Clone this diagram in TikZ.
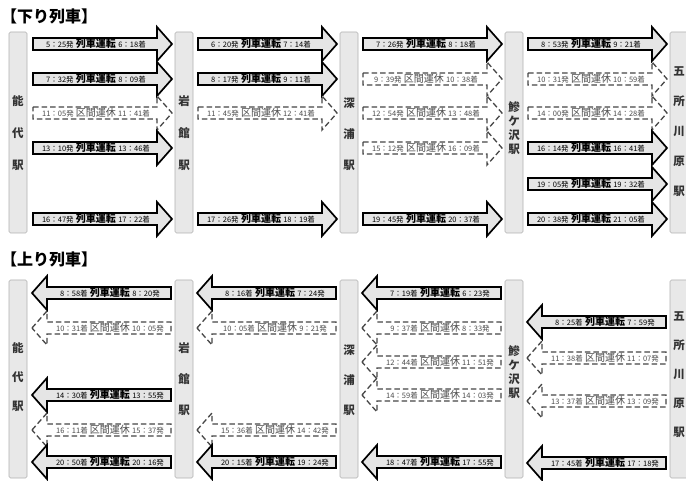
\documentclass[tikz,border=0pt]{standalone}
\usepackage{fontspec}
\setmainfont{Noto Sans CJK JP}

\tikzset{
  run/.style={draw=black,line width=1.7pt,fill=gray!20},
  halt/.style={draw=gray!55!black,line width=1.3pt,dash pattern=on 5.5pt off 3pt,fill=white},
  runtxt/.style={font=\fontsize{10}{11}\selectfont\bfseries,text=black,inner sep=0pt},
  halttxt/.style={font=\fontsize{10}{11}\selectfont,text=gray!60!black,inner sep=0pt},
  stnbar/.style={draw=gray!60,fill=gray!18,line width=0.6pt,rounded corners=1.5pt},
  stn/.style={align=center,inner sep=0pt,text=black!80,font=\fontsize{11.5}{#1}\selectfont\bfseries},
  ttl/.style={anchor=west,inner sep=0pt,font=\fontsize{16}{17}\selectfont\bfseries}
}
\newcommand{\hh}[1]{{\fontsize{7.5}{8}\selectfont\mdseries #1}}
% train to the right (kudari): name, style, tail x, y, text
\newcommand{\kudari}[5]{%
  \draw[#2] (#3,#4-6) -- ++(124,0) -- ++(0,-11) -- ++(15,17) -- ++(-15,17) -- ++(0,-11) -- ++(-124,0) -- cycle;
  \node[#2txt] (#1) at (#3+63,#4) {#5};}
% train to the left (nobori): name, style, tip x, y, text
\newcommand{\nobori}[5]{%
  \draw[#2] (#3,#4) -- ++(15,-17) -- ++(0,11) -- ++(124,0) -- ++(0,12) -- ++(-124,0) -- ++(0,11) -- cycle;
  \node[#2txt] (#1) at (#3+78,#4) {#5};}

\begin{document}
\begin{tikzpicture}[x=1pt,y=-1pt]
  \clip (0,0) rectangle (686,481);
  \fill[white] (0,0) rectangle (686,481);

  % titles
  \node[ttl] (tdown) at (1,16) {【下り列車】};
  \node[ttl] (tup) at (1,259) {【上り列車】};

  % station bars
  \foreach \x in {9,175,340,505,670} {
    \draw[stnbar] (\x,32) rectangle ++(18,201);
    \draw[stnbar] (\x,280) rectangle ++(18,198);
  }

  % station names
  \node[stn=32] (noshiroD) at (18,133) {能\\代\\駅};
  \node[stn=32] (iwadateD) at (184,133) {岩\\館\\駅};
  \node[stn=31] (fukauraD) at (349,134) {深\\浦\\駅};
  \node[stn=14] (ajigasawaD) at (514,128) {鰺\\ケ\\沢\\駅};
  \node[stn=30] (goshogawaraD) at (679,132) {五\\所\\川\\原\\駅};

  \node[stn=29] (noshiroU) at (18,377) {能\\代\\駅};
  \node[stn=31] (iwadateU) at (184,379) {岩\\館\\駅};
  \node[stn=30] (fukauraU) at (349,380) {深\\浦\\駅};
  \node[stn=14] (ajigasawaU) at (514,372) {鰺\\ケ\\沢\\駅};
  \node[stn=29] (goshogawaraU) at (679,375) {五\\所\\川\\原\\駅};

  % kudari
  \kudari{d11}{run}{33}{44}{\hh{5：25発} 列車運転 \hh{6：18着}}
  \kudari{d12}{run}{33}{79}{\hh{7：32発} 列車運転 \hh{8：09着}}
  \kudari{d13}{halt}{33}{113}{\hh{11：05発} 区間運休 \hh{11：41着}}
  \kudari{d14}{run}{33}{148}{\hh{13：10発} 列車運転 \hh{13：46着}}
  \kudari{d15}{run}{33}{219}{\hh{16：47発} 列車運転 \hh{17：22着}}

  \kudari{d21}{run}{198}{44}{\hh{6：20発} 列車運転 \hh{7：14着}}
  \kudari{d22}{run}{198}{79}{\hh{8：17発} 列車運転 \hh{9：11着}}
  \kudari{d23}{halt}{198}{113}{\hh{11：45発} 区間運休 \hh{12：41着}}
  \kudari{d24}{run}{198}{219}{\hh{17：26発} 列車運転 \hh{18：19着}}

  \kudari{d31}{run}{363}{44}{\hh{7：26発} 列車運転 \hh{8：18着}}
  \kudari{d32}{halt}{363}{79}{\hh{9：39発} 区間運休 \hh{10：38着}}
  \kudari{d33}{halt}{363}{113}{\hh{12：54発} 区間運休 \hh{13：48着}}
  \kudari{d34}{halt}{363}{148}{\hh{15：12発} 区間運休 \hh{16：09着}}
  \kudari{d35}{run}{363}{219}{\hh{19：45発} 列車運転 \hh{20：37着}}

  \kudari{d41}{run}{528}{44}{\hh{8：53発} 列車運転 \hh{9：21着}}
  \kudari{d42}{halt}{528}{79}{\hh{10：31発} 区間運休 \hh{10：59着}}
  \kudari{d43}{halt}{528}{113}{\hh{14：00発} 区間運休 \hh{14：28着}}
  \kudari{d44}{run}{528}{148}{\hh{16：14発} 列車運転 \hh{16：41着}}
  \kudari{d45}{run}{528}{184}{\hh{19：05発} 列車運転 \hh{19：32着}}
  \kudari{d46}{run}{528}{219}{\hh{20：38発} 列車運転 \hh{21：05着}}

  % nobori
  \nobori{u11}{run}{32}{293}{\hh{8：58着} 列車運転 \hh{8：20発}}
  \nobori{u12}{halt}{32}{328}{\hh{10：31着} 区間運休 \hh{10：05発}}
  \nobori{u13}{run}{32}{395}{\hh{14：30着} 列車運転 \hh{13：55発}}
  \nobori{u14}{halt}{32}{430}{\hh{16：11着} 区間運休 \hh{15：37発}}
  \nobori{u15}{run}{32}{462}{\hh{20：50着} 列車運転 \hh{20：16発}}

  \nobori{u21}{run}{197}{293}{\hh{8：16着} 列車運転 \hh{7：24発}}
  \nobori{u22}{halt}{197}{328}{\hh{10：05着} 区間運休 \hh{9：21発}}
  \nobori{u23}{halt}{197}{430}{\hh{15：36着} 区間運休 \hh{14：42発}}
  \nobori{u24}{run}{197}{462}{\hh{20：15着} 列車運転 \hh{19：24発}}

  \nobori{u31}{run}{362}{293}{\hh{7：19着} 列車運転 \hh{6：23発}}
  \nobori{u32}{halt}{362}{328}{\hh{9：37着} 区間運休 \hh{8：33発}}
  \nobori{u33}{halt}{362}{362}{\hh{12：44着} 区間運休 \hh{11：51発}}
  \nobori{u34}{halt}{362}{395}{\hh{14：59着} 区間運休 \hh{14：03発}}
  \nobori{u35}{run}{362}{462}{\hh{18：47着} 列車運転 \hh{17：55発}}

  \nobori{u41}{run}{527}{322}{\hh{8：25着} 列車運転 \hh{7：59発}}
  \nobori{u42}{halt}{527}{358}{\hh{11：38着} 区間運休 \hh{11：07発}}
  \nobori{u43}{halt}{527}{401}{\hh{13：37着} 区間運休 \hh{13：09発}}
  \nobori{u44}{run}{527}{463}{\hh{17：45着} 列車運転 \hh{17：18発}}
\end{tikzpicture}
\end{document}
